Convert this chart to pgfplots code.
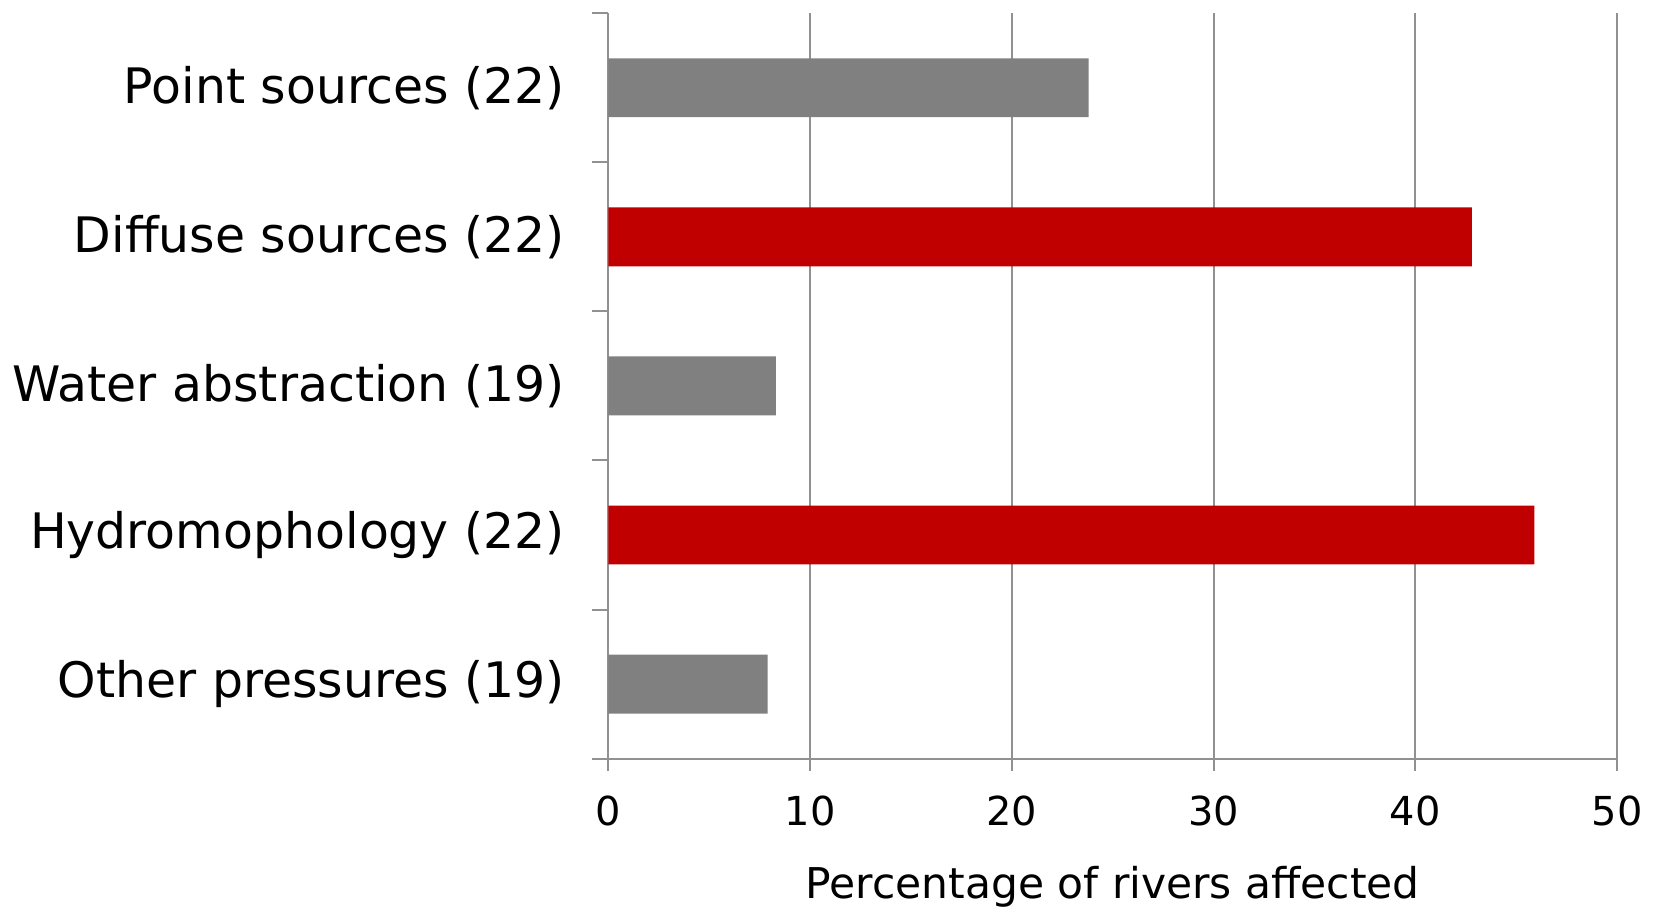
\documentclass[border=0pt]{standalone}
\usepackage{fontspec}
\setmainfont{DejaVu Sans}
\usepackage{pgfplots}
\pgfplotsset{compat=1.18}
\definecolor{barred}{RGB}{192,0,0}
\definecolor{bargray}{RGB}{128,128,128}
\definecolor{axgray}{RGB}{145,145,145}
\begin{document}
\begin{tikzpicture}
  \begin{axis}[
    xbar,
    scale only axis,
    width=404.4pt, height=298.8pt,
    xmin=0, xmax=50,
    ymin=-0.5, ymax=4.5,
    y dir=reverse,
    axis x line*=bottom,
    axis y line*=left,
    axis line style={draw=axgray, line width=0.8pt, -},
    xtick={0,10,...,50},
    xmajorgrids,
    grid style={draw=axgray, line width=0.8pt},
    tick align=outside,
    x tick style={draw=axgray, line width=0.8pt},
    major tick length=4.8pt,
    ytick={0,1,2,3,4},
    yticklabels={Point sources (22),Diffuse sources (22),Water abstraction (19),Hydromophology (22),Other pressures (19)},
    y tick style={draw=none},
    extra y ticks={-0.5,0.5,1.5,2.5,3.5,4.5},
    extra y tick labels={},
    extra y tick style={y tick style={draw=axgray, line width=0.8pt}, major tick length=6.4pt},
    yticklabel style={font=\fontsize{19.6}{23}\selectfont, anchor=east, inner sep=0pt, xshift=-12.5pt},
    xticklabel style={font=\fontsize{16}{19}\selectfont, anchor=north, inner sep=0pt, yshift=-10pt},
    /pgf/number format/assume math mode=true,
    xlabel={Percentage of rivers affected},
    xlabel style={font=\fontsize{17}{21}\selectfont, at={(axis description cs:0.5,0)}, anchor=base, yshift=-56pt},
    bar width=23.6pt,
  ]
  \addplot[fill=bargray, draw=none, bar shift=0pt] coordinates {
    (23.8,0) (8.3,2) (7.9,4)};
  \addplot[fill=barred, draw=none, bar shift=0pt] coordinates {
    (42.8,1) (45.9,3)};
  \end{axis}
  % blank margins round the chart, as in the reference
  \path (current bounding box.north) ++(0,4.8pt);
  \path (current bounding box.west) ++(-5pt,0);
  \path (current bounding box.east) ++(5pt,0);
\end{tikzpicture}
\end{document}
